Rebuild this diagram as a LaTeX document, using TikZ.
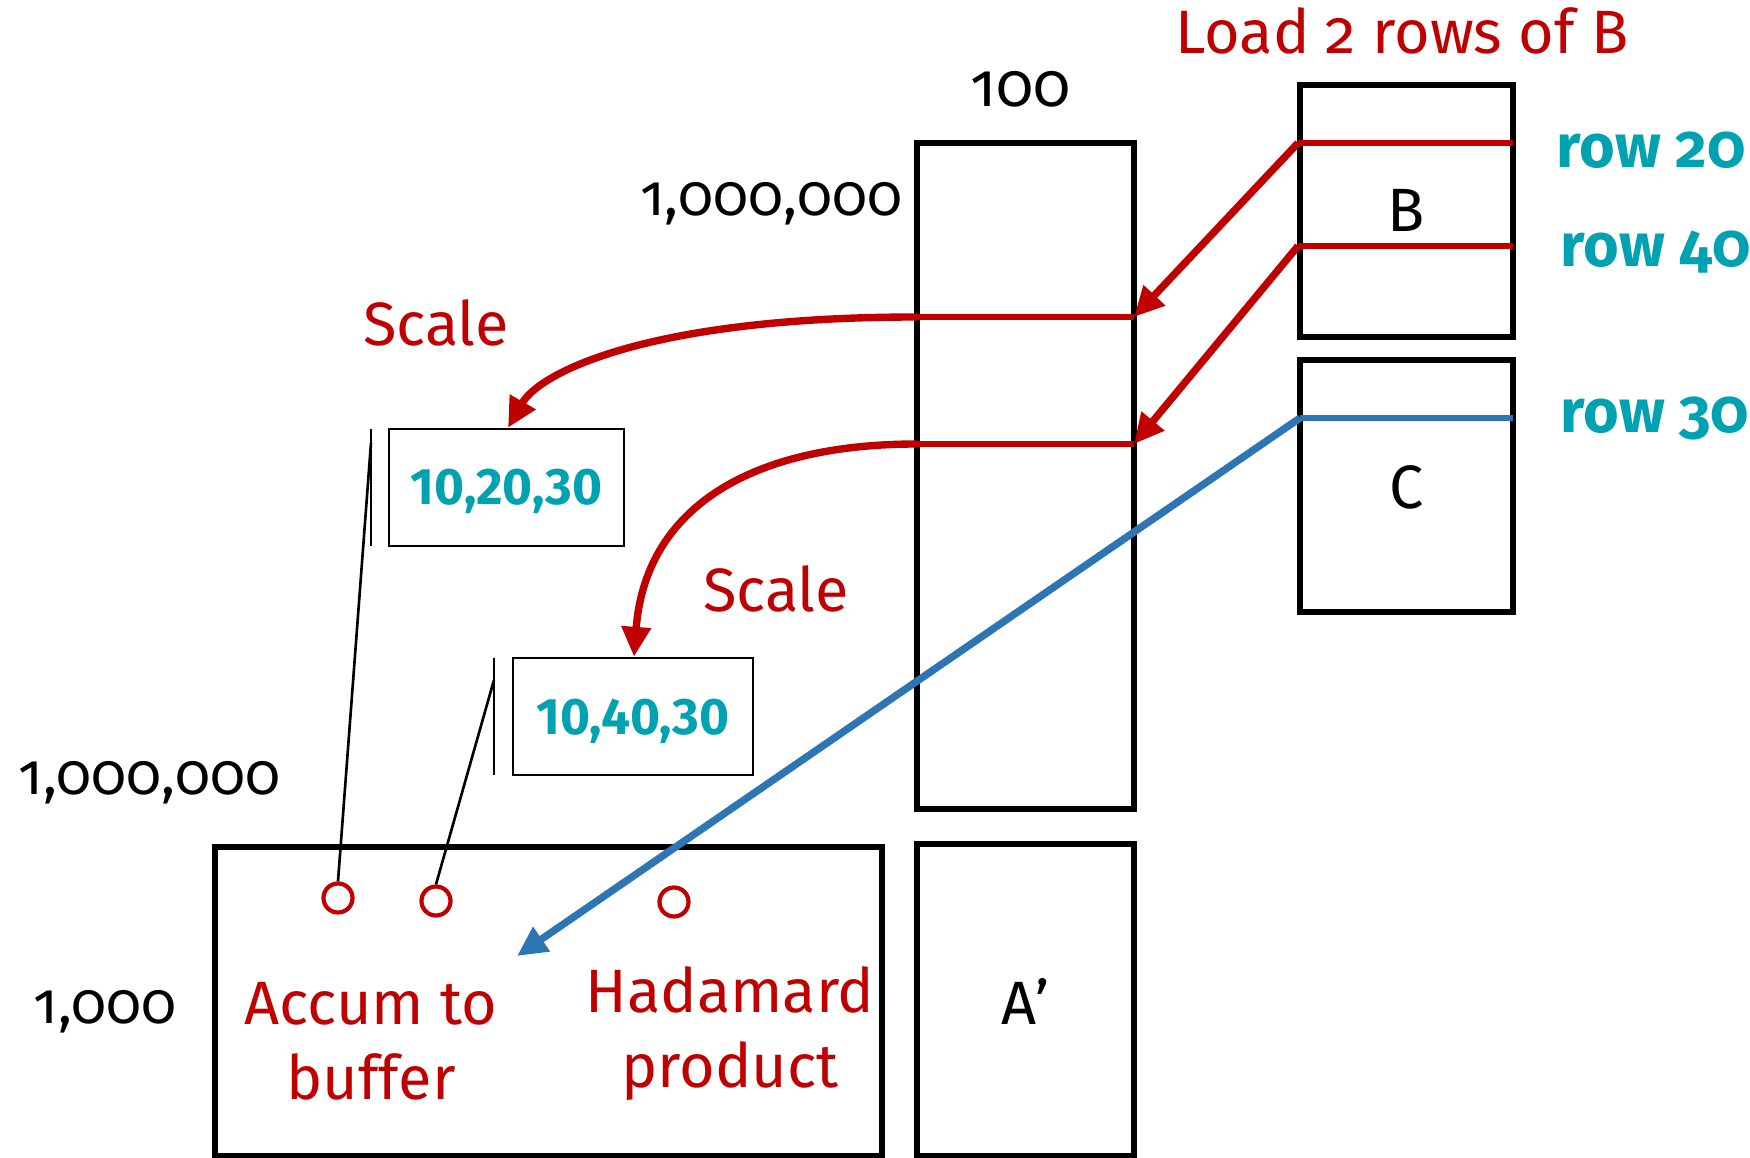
\documentclass[tikz,border=0pt]{standalone}
\usepackage{fontspec}
\setmainfont{Fira Sans}[Numbers=OldStyle]
\newfontfamily\numfont{Fira Sans}[Numbers=Lining]
\usetikzlibrary{arrows.meta,fit}
\definecolor{darkred}{RGB}{192,0,0}
\definecolor{rowteal}{RGB}{0,162,178}
\definecolor{arrowblue}{RGB}{46,117,182}

\begin{document}
\begin{tikzpicture}[x=0.01cm,y=-0.01cm,
  box/.style={draw, line width=1.5pt, inner sep=0pt},
  numbox/.style={draw, line width=0.7pt, inner sep=0pt},
  numtext/.style={inner sep=0pt, anchor=base, text=rowteal,
    font=\numfont\bfseries\fontsize{14.6}{17}\selectfont},
  lbl/.style={inner sep=0pt, font=\fontsize{17.4}{21.5}\selectfont},
  dimlbl/.style={inner sep=0pt, font=\fontsize{16.4}{20}\selectfont},
  redlbl/.style={lbl, text=darkred},
  rowlbl/.style={inner sep=0pt, text=rowteal, anchor=base west,
    font=\bfseries\fontsize{17.4}{21.5}\selectfont},
  redrow/.style={darkred, line width=1.6pt},
  tip/.style={-{Triangle[length=8.5pt,width=8pt]}},
  load/.style={darkred, line width=2.1pt, tip},
  scalearrow/.style={darkred, line width=2.1pt, tip},
  fetch/.style={arrowblue, line width=2.1pt, tip},
  thin/.style={line width=0.75pt},
  slot/.style={circle, draw=darkred, line width=1.2pt, minimum size=0.29cm, inner sep=0pt},
]
\useasboundingbox (0,0) rectangle (1750,1158);

% matrices
\node[box, fit={(917,143) (1134,809)}] (A) {};
\node[box, fit={(917,844) (1134,1156)}] (Ap) {};
\node[box, fit={(215,847) (882,1156)}] (out) {};
\node[box, fit={(1300,85) (1513,337)}] (B) {};
\node[box, fit={(1300,360) (1513,612)}] (C) {};
\node[lbl, anchor=base] (Aplbl) at (Ap.center |- 0,1025) {A’};
\node[lbl, anchor=base] (Blbl) at (B.center |- 0,232) {B};
\node[lbl, anchor=base] (Clbl) at (C.center |- 0,509) {C};

% dimension labels
\node[lbl, anchor=base] (w100) at (1021,107) {100};
\node[dimlbl, anchor=base east] (hA) at (903,216) {1,000,000};
\node[dimlbl, anchor=base west] (hOut) at (18,795) {1,000,000};
\node[dimlbl, anchor=base west] (hAp) at (33,1024) {1,000};

% selected rows of B and C
\coordinate (b20w) at (1298,143);
\coordinate (b20e) at (1513,143);
\coordinate (b40w) at (1298,246);
\coordinate (b40e) at (1513,246);
\coordinate (c30w) at (1300,418);
\coordinate (c30e) at (1513,418);
\draw[redrow] (b20w) -- (b20e);
\draw[redrow] (b40w) -- (b40e);
\node[rowlbl] (r20) at (1556,168) {row 20};
\node[rowlbl] (r40) at (1560,267) {row 40};
\node[rowlbl] (r30) at (1560,433) {row 30};
\node[redlbl, anchor=base] (load) at (1402,54) {Load 2 rows of B};

% rows of A touched by the loaded rows
\coordinate (a1w) at (917,317);
\coordinate (a1e) at (1134,317);
\coordinate (a2w) at (917,444);
\coordinate (a2e) at (1134,444);
\draw[redrow] (a1w) -- (a1e);
\draw[redrow] (a2w) -- (a2e);
\draw[load] (b20w) -- (a1e);
\draw[load] (b40w) -- (a2e);

% scaled copies
\node[numbox, fit={(389,429) (624,546)}] (s1) {};
\node[numbox, fit={(513,658) (753,775)}] (s2) {};
\node[numtext] (s1t) at (s1.center |- 0,505) {10,20,30};
\node[numtext] (s2t) at (s2.center |- 0,735) {10,40,30};
\draw[scalearrow] (a1w) .. controls (650,317) and (540,372) .. (s1.north -| 508,0);
\draw[scalearrow] (a2w) .. controls (745,444) and (645,512) .. (s2.north -| 634,0);
\node[redlbl, anchor=base] (sc1) at (436,346) {Scale};
\node[redlbl, anchor=base] (sc2) at (776,612) {Scale};

% accumulation slots in the output buffer
\node[slot] (o1) at (338,898) {};
\node[slot] (o2) at (436,901) {};
\node[slot] (o3) at (674,902) {};
\coordinate (v1t) at (371,429);
\coordinate (v1b) at (371,546);
\coordinate (v1j) at (371,443);
\coordinate (v2t) at (494,658);
\coordinate (v2b) at (494,775);
\coordinate (v2j) at (494,680);
\draw[thin] (v1t) -- (v1b);
\draw[thin] (v2t) -- (v2b);
\draw[thin] (v1j) -- (o1.north);
\draw[thin] (v2j) -- (o2.north);

\node[redlbl, align=center, anchor=base] (accum) at (371,1100) {Accum to\\buffer};
\node[redlbl, align=center, anchor=base] (hada) at (730,1088) {Hadamard\\product};

% row of C streamed into the Hadamard product
\coordinate (ctip) at (517,956);
\draw[arrowblue, line width=1.6pt] (c30w) -- (c30e);
\draw[fetch] (c30w) -- (ctip);
\end{tikzpicture}
\end{document}
